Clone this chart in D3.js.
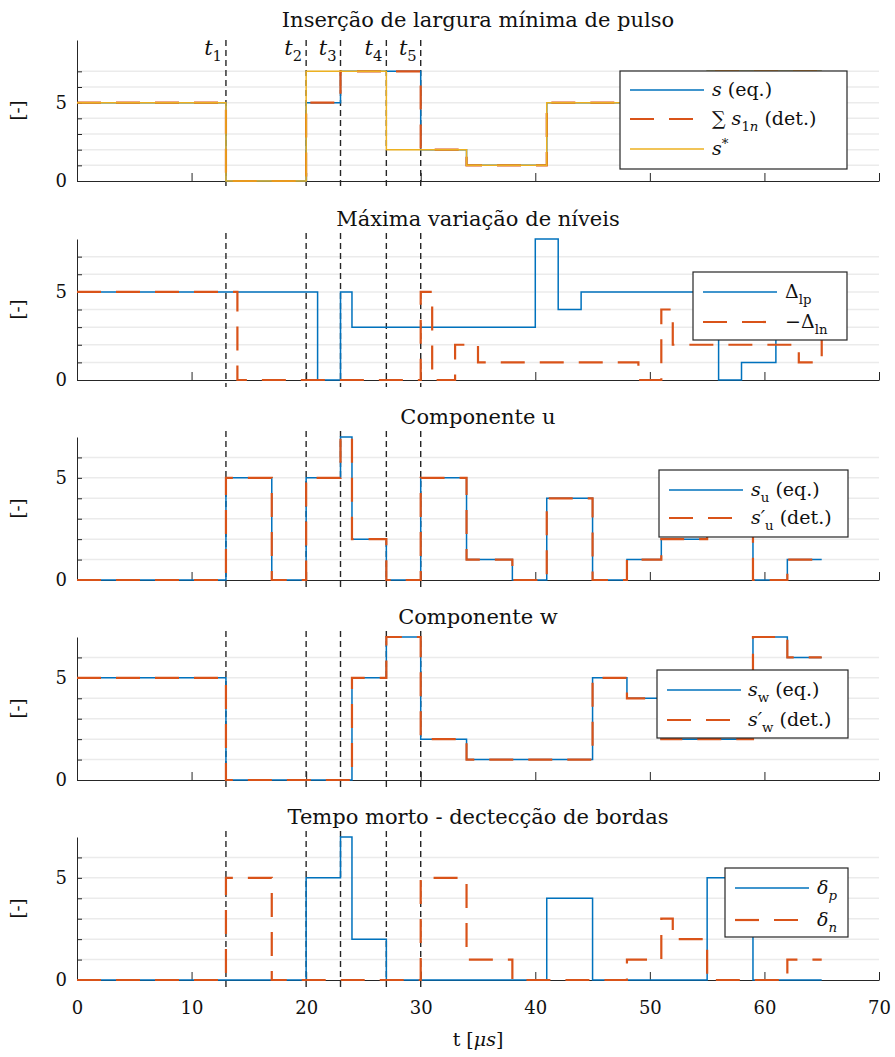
<html>
<head>
  <meta charset="utf-8">
  <script src="https://d3js.org/d3.v7.min.js"></script>
  <style>
    body { margin: 0; padding: 0; background: white; overflow: hidden; }
    svg { display: block; }
    text { font-family: "DejaVu Serif", "Liberation Serif", serif; fill: #111; }
  </style>
</head>
<body>
  <svg width="895" height="1057"></svg>

  <script>
    // ---- data (step signals: value holds from t[i] to t[i+1]) ----
    const xTicks = [0, 10, 20, 30, 40, 50, 60, 70];
    const yTickLabels = [0, 5];
    const markers = [13, 20, 23, 27, 30];
    const markerLabels = ["1", "2", "3", "4", "5"];

    // Panel 1
    const tS = [0, 13, 20, 23, 30, 34, 41, 55, 65];
    const vS = [5, 0, 5, 7, 2, 1, 5, 7, 7];
    const vSumS1n = [5, 0, 5, 7, 2, 1, 5, 7, 7];
    const tSref = [0, 13, 20, 27, 34, 41, 55, 65];
    const vSref = [5, 0, 7, 2, 1, 5, 7, 7];

    // Panel 2
    const tDlp = [0, 21, 23, 24, 40, 42, 44, 56, 58, 61, 65];
    const vDlp = [5, 0, 5, 3, 8, 4, 5, 0, 1, 5, 5];
    const tDln = [0, 14, 30, 31, 33, 35, 49, 51, 52, 63, 65];
    const vDln = [5, 0, 5, 0, 2, 1, 0, 4, 2, 1, 3];

    // Panel 3
    const tU = [0, 13, 17, 20, 23, 24, 27, 30, 34, 38, 41, 45, 48, 51, 55, 59, 62, 65];
    const vU = [0, 5, 0, 5, 7, 2, 0, 5, 1, 0, 4, 0, 1, 2, 5, 0, 1, 1];
    const vUdet = [0, 5, 0, 5, 7, 2, 0, 5, 1, 0, 4, 0, 1, 2, 5, 0, 1, 1];

    // Panel 4
    const tW = [0, 13, 24, 27, 30, 34, 45, 48, 51, 59, 62, 65];
    const vW = [5, 0, 5, 7, 2, 1, 5, 4, 2, 7, 6, 6];
    const vWdet = [5, 0, 5, 7, 2, 1, 5, 4, 2, 7, 6, 6];

    // Panel 5
    const tDp = [0, 20, 23, 24, 27, 41, 45, 55, 59, 65];
    const vDp = [0, 5, 7, 2, 0, 4, 0, 5, 0, 0];
    const tDn = [0, 13, 17, 30, 34, 38, 48, 51, 52, 55, 62, 65];
    const vDn = [0, 5, 0, 5, 1, 0, 1, 3, 2, 0, 1, 1];

    // ---- styles ----
    const BLUE = { color: "#0072BD", width: 1.5, dash: null };
    const ORANGE = { color: "#D95319", width: 2.2, dash: "24,15" };
    const YELLOW = { color: "#EDB120", width: 1.5, dash: null };
    const AX = "#262626";

    const panels = [
      { top: 40, bottom: 181, ymax: 9, grid: d3.range(1, 8),
        title: "Inserção de largura mínima de pulso",
        series: [
          { t: tS, v: vS, st: BLUE, label: [["s", "i"], [" (eq.)"]] },
          { t: tS, v: vSumS1n, st: ORANGE, label: [["∑ "], ["s", "i"], ["1", "sub"], ["n", "i sub"], [" (det.)"]] },
          { t: tSref, v: vSref, st: YELLOW, label: [["s", "i"], ["*", "sup"]] }
        ],
        legend: { x: 620, y: 71, w: 227, h: 98, sx: 10, sw: 74, tx: 92, rows: [19, 48, 78] } },
      { top: 239, bottom: 380, ymax: 8, grid: d3.range(1, 8),
        title: "Máxima variação de níveis",
        series: [
          { t: tDlp, v: vDlp, st: BLUE, label: [["Δ"], ["lp", "sub"]] },
          { t: tDln, v: vDln, st: ORANGE, label: [["−Δ"], ["ln", "sub"]] }
        ],
        legend: { x: 693, y: 272, w: 154, h: 68, sx: 10, sw: 74, tx: 92, rows: [20, 50] } },
      { top: 437, bottom: 580, ymax: 7, grid: d3.range(1, 7),
        title: "Componente u",
        series: [
          { t: tU, v: vU, st: BLUE, label: [["s", "i"], ["u", "sub"], [" (eq.)"]] },
          { t: tU, v: vUdet, st: ORANGE, label: [["s′", "i"], ["u", "sub"], [" (det.)"]] }
        ],
        legend: { x: 659, y: 470, w: 189, h: 67, sx: 10, sw: 74, tx: 92, rows: [20, 48] } },
      { top: 637, bottom: 780, ymax: 7, grid: d3.range(1, 7),
        title: "Componente w",
        series: [
          { t: tW, v: vW, st: BLUE, label: [["s", "i"], ["w", "sub"], [" (eq.)"]] },
          { t: tW, v: vWdet, st: ORANGE, label: [["s′", "i"], ["w", "sub"], [" (det.)"]] }
        ],
        legend: { x: 657, y: 670, w: 191, h: 68, sx: 10, sw: 74, tx: 91, rows: [20, 50] } },
      { top: 837, bottom: 980, ymax: 7, grid: d3.range(1, 7),
        title: "Tempo morto - dectecção de bordas",
        series: [
          { t: tDp, v: vDp, st: BLUE, label: [["δ", "i"], ["p", "i sub"]] },
          { t: tDn, v: vDn, st: ORANGE, label: [["δ", "i"], ["n", "i sub"]] }
        ],
        legend: { x: 725, y: 868, w: 123, h: 69, sx: 10, sw: 74, tx: 92, rows: [20, 52] } }
    ];

    const svg = d3.select("svg");
    const x = d3.scaleLinear().domain([0, 70]).range([77, 879]);

    // text with italic / sub / sup parts
    function rich(g, px, py, parts, size, anchor) {
      const t = g.append("text")
        .attr("x", px).attr("y", py)
        .attr("font-size", size)
        .attr("text-anchor", anchor || "start");
      let shift = 0;
      parts.forEach(p => {
        const flags = (p[1] || "").split(" ");
        let target = 0, fs = size;
        if (flags.includes("sub")) { target = size * 0.3; fs = size * 0.7; }
        if (flags.includes("sup")) { target = -size * 0.38; fs = size * 0.7; }
        const ts = t.append("tspan").text(p[0])
          .attr("dy", target - shift)
          .attr("font-size", fs);
        if (flags.includes("i")) ts.attr("font-style", "italic");
        if (p[2]) ts.attr("dx", p[2]);
        shift = target;
      });
      return t;
    }

    panels.forEach((p, pi) => {
      const y = d3.scaleLinear().domain([0, p.ymax]).range([p.bottom, p.top]);
      const g = svg.append("g");

      // grid
      g.selectAll(".grid").data(p.grid).enter().append("line")
        .attr("x1", x(0)).attr("x2", x(70))
        .attr("y1", d => y(d)).attr("y2", d => y(d))
        .attr("stroke", "#ebebeb").attr("stroke-width", 1.5);

      // axes (left + bottom only)
      const xAxis = d3.axisBottom(x).tickValues(xTicks).tickSizeInner(-8).tickSizeOuter(0)
        .tickFormat(pi === panels.length - 1 ? d3.format("d") : "");
      const xa = g.append("g").attr("transform", "translate(0," + p.bottom + ")").call(xAxis);
      xa.select(".domain").attr("stroke", AX);
      xa.selectAll(".tick line").attr("stroke", AX);
      xa.selectAll(".tick text")
        .attr("font-family", "DejaVu Serif").attr("font-size", 18).attr("fill", "#111")
        .attr("dy", "1.7em");

      const yAxis = d3.axisLeft(y).tickValues(d3.range(0, Math.min(p.ymax, 8)))
        .tickSizeInner(-5).tickSizeOuter(0).tickFormat(d => yTickLabels.includes(d) ? d : "");
      const ya = g.append("g").attr("transform", "translate(" + x(0) + ",0)").call(yAxis);
      ya.select(".domain").attr("stroke", AX);
      ya.selectAll(".tick line").attr("stroke", AX);
      ya.selectAll(".tick text")
        .attr("font-family", "DejaVu Serif").attr("font-size", 18).attr("fill", "#111")
        .attr("x", -10);

      // y label
      g.append("text")
        .attr("transform", "translate(24," + ((p.top + p.bottom) / 2) + ") rotate(-90)")
        .attr("text-anchor", "middle")
        .attr("font-size", 18)
        .text("[-]");

      // title
      g.append("text")
        .attr("x", (x(0) + x(70)) / 2).attr("y", p.top - 13)
        .attr("text-anchor", "middle")
        .attr("font-size", 21)
        .text(p.title);

      // marker lines
      g.selectAll(".mk").data(markers).enter().append("line")
        .attr("x1", d => x(d)).attr("x2", d => x(d))
        .attr("y1", pi === 0 ? p.top : p.top - 6).attr("y2", p.bottom + 7)
        .attr("stroke", AX).attr("stroke-width", 1.4)
        .attr("stroke-dasharray", "6,4");

      if (pi === 0) {
        markers.forEach((m, i) => {
          rich(g, x(m) - 4, 55, [["t", "i"], [markerLabels[i], "sub"]], 21, "end");
        });
      }

      // series
      const line = d3.line().x(d => x(d[0])).y(d => y(d[1])).curve(d3.curveStepAfter);
      p.series.forEach(s => {
        const path = g.append("path")
          .datum(d3.zip(s.t, s.v))
          .attr("fill", "none")
          .attr("stroke", s.st.color)
          .attr("stroke-width", s.st.width)
          .attr("d", line);
        if (s.st.dash) path.attr("stroke-dasharray", s.st.dash);
      });

      // legend
      const L = p.legend;
      const lg = g.append("g").attr("transform", "translate(" + L.x + "," + L.y + ")");
      lg.append("rect").attr("width", L.w).attr("height", L.h)
        .attr("fill", "white").attr("stroke", AX).attr("stroke-width", 1.2);
      p.series.forEach((s, i) => {
        const ry = L.rows[i];
        const ln = lg.append("line")
          .attr("x1", L.sx).attr("x2", L.sx + L.sw)
          .attr("y1", ry).attr("y2", ry)
          .attr("stroke", s.st.color).attr("stroke-width", s.st.width);
        if (s.st.dash) ln.attr("stroke-dasharray", s.st.dash);
        rich(lg, L.tx, ry + 6, s.label, 19, "start");
      });
    });

    // x label
    rich(svg, (x(0) + x(70)) / 2, 1046, [["t ["], ["μs", "i"], ["]"]], 19, "middle");
  </script>
</body>
</html>
